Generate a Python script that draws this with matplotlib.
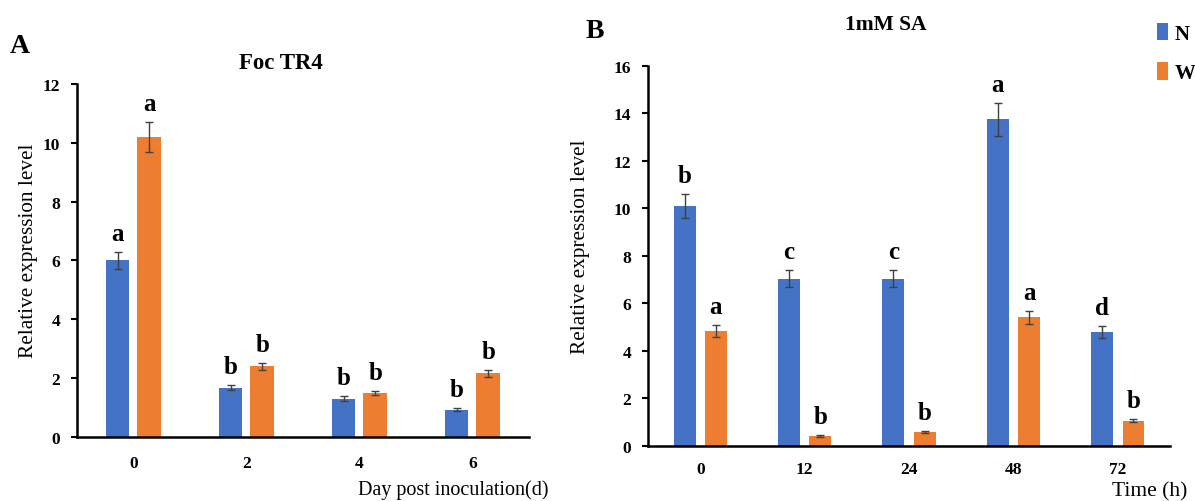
import matplotlib.pyplot as plt
import numpy as np

plt.rcParams['font.family'] = ['Liberation Serif', 'DejaVu Serif']

blue = '#4472C4'
orange = '#ED7D31'

# panel A: Foc TR4
days = ['0', '2', '4', '6']
a_n = [6.0, 1.68, 1.3, 0.93]
a_n_err = [0.3, 0.08, 0.08, 0.06]
a_w = [10.2, 2.4, 1.5, 2.17]
a_w_err = [0.5, 0.13, 0.08, 0.12]
a_n_let = ['a', 'b', 'b', 'b']
a_w_let = ['a', 'b', 'b', 'b']

# panel B: 1mM SA
hours = ['0', '12', '24', '48', '72']
b_n = [10.1, 7.05, 7.05, 13.75, 4.8]
b_n_err = [0.5, 0.35, 0.35, 0.7, 0.25]
b_w = [4.85, 0.42, 0.6, 5.42, 1.07]
b_w_err = [0.25, 0.04, 0.05, 0.28, 0.06]
b_n_let = ['b', 'c', 'c', 'a', 'd']
b_w_let = ['a', 'b', 'b', 'a', 'b']

fig = plt.figure(figsize=(11.95, 5.02), dpi=100)
axA = fig.add_axes([0.0644, 0.1275, 0.3782, 0.7032])
axB = fig.add_axes([0.5423, 0.1096, 0.4368, 0.757])


def panel(ax, cats, n, n_err, w, w_err, n_let, w_let, ymax, off, labx, laby, xpad):
    x = np.arange(len(cats))
    bw = 0.21
    ax.bar(x - off, n, bw, color=blue, label='N', zorder=2)
    ax.bar(x + off, w, bw, color=orange, label='W', zorder=2)
    ax.errorbar(x - off, n, yerr=n_err, fmt='none', ecolor='#404040',
                elinewidth=1, capsize=3, capthick=1, zorder=3)
    ax.errorbar(x + off, w, yerr=w_err, fmt='none', ecolor='#404040',
                elinewidth=1, capsize=3, capthick=1, zorder=3)
    for xi, v, e, t in zip(x - off, n, n_err, n_let):
        ax.annotate(t, (xi, v + e), xytext=(0, 5), textcoords='offset points',
                    ha='center', va='bottom', fontsize=18, fontweight='bold')
    for xi, v, e, t in zip(x + off, w, w_err, w_let):
        ax.annotate(t, (xi, v + e), xytext=(0, 5), textcoords='offset points',
                    ha='center', va='bottom', fontsize=18, fontweight='bold')
    ax.set_xlim(-0.5, len(cats) - 0.5)
    ax.set_ylim(0, ymax)
    ax.set_yticks(np.arange(0, ymax + 1, 2))
    ax.set_xticks(x)
    ax.set_xticklabels(cats)
    ax.spines['top'].set_visible(False)
    ax.spines['right'].set_visible(False)
    ax.spines['left'].set_linewidth(1.8)
    ax.spines['bottom'].set_linewidth(1.8)
    ax.tick_params(axis='x', length=0, pad=xpad)
    ax.tick_params(axis='y', length=4, width=1.5, pad=8)
    for lab in ax.get_xticklabels() + ax.get_yticklabels():
        lab.set_fontweight('bold')
        lab.set_fontsize(12.5)
    ax.set_ylabel('Relative expression level', fontsize=15.3)
    ax.yaxis.set_label_coords(labx, laby)


panel(axA, days, a_n, a_n_err, a_w, a_w_err, a_n_let, a_w_let, 12, 0.14, -0.086, 0.53, 13)
panel(axB, hours, b_n, b_n_err, b_w, b_w_err, b_n_let, b_w_let, 16, 0.15, -0.111, 0.526, 11)

fig.text(0.235, 0.8745, 'Foc TR4', fontsize=16.5, fontweight='bold', ha='center', va='center')
fig.text(0.741, 0.950, '1mM SA', fontsize=15.5, fontweight='bold', ha='center', va='center')

fig.text(0.379, 0.024, 'Day post inoculation(d)', fontsize=14.5, ha='center', va='center')
fig.text(0.962, 0.021, 'Time (h)', fontsize=15.5, ha='center', va='center')

fig.text(0.008, 0.895, 'A', fontsize=20, fontweight='bold')
fig.text(0.49, 0.925, 'B', fontsize=20, fontweight='bold')

h, l = axB.get_legend_handles_labels()
fig.legend(h, l, loc='upper left', bbox_to_anchor=(0.961, 0.969), frameon=False,
           handlelength=0.55, handleheight=0.9, handletextpad=0.3,
           labelspacing=0.9, borderaxespad=0, prop={'weight': 'bold', 'size': 15})

fig.savefig('out.png', dpi=100)
